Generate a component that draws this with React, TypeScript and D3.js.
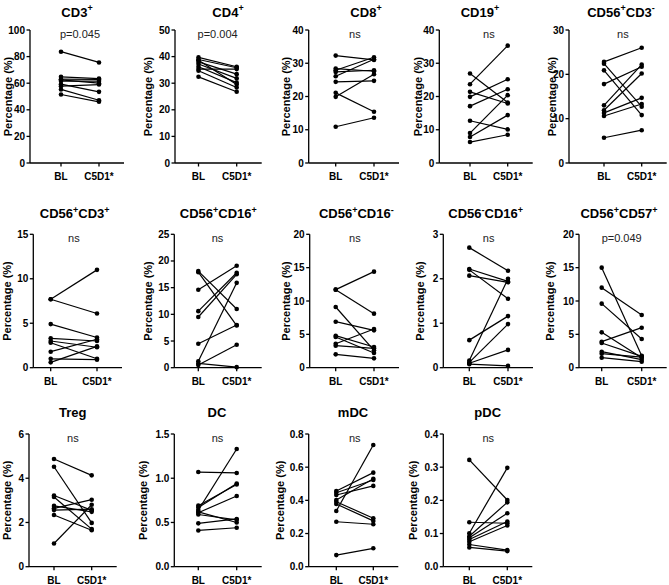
import React from "react";
import * as d3 from "d3";

// values, one entry per subject (n = 9)
const cd3BL = [83.7, 64.8, 63.0, 62.5, 61.6, 59.3, 57.8, 55.3, 51.5];
const cd3C5 = [75.6, 63.5, 62.8, 60.0, 61.6, 53.5, 59.0, 47.2, 46.0];
const cd4BL = [39.7, 38.9, 38.6, 38.0, 37.2, 36.2, 35.3, 34.7, 32.4];
const cd4C5 = [36.2, 35.8, 29.5, 33.4, 31.8, 30.2, 35.3, 28.4, 26.8];
const cd8BL = [32.3, 28.4, 27.9, 27.4, 26.1, 24.4, 21.1, 19.9, 10.9];
const cd8C5 = [31.0, 27.6, 31.8, 27.9, 31.2, 24.7, 15.4, 26.7, 13.6];
const cd19BL = [26.9, 23.7, 21.4, 19.9, 17.1, 12.7, 9.0, 7.8, 6.3];
const cd19C5 = [18.2, 35.3, 17.9, 25.2, 22.2, 10.1, 20.4, 14.4, 8.5];
const nkBL = [22.8, 22.4, 20.9, 17.8, 13.0, 11.9, 11.3, 10.6, 5.7];
const nkC5 = [26.0, 12.7, 10.8, 21.7, 22.2, 20.2, 14.7, 13.3, 7.4];
const nktBL = [7.7, 7.7, 4.9, 3.3, 3.0, 2.8, 1.8, 1.0, 0.6];
const nktC5 = [11.0, 6.1, 3.4, 3.0, 2.3, 1.0, 3.2, 0.9, 2.4];
const cd16pBL = [18.1, 17.9, 14.6, 10.6, 9.5, 4.5, 1.2, 0.8, 0.5];
const cd16pC5 = [11.0, 7.9, 19.1, 17.8, 17.5, 8.0, 15.9, 0.1, 4.3];
const cd16nBL = [11.7, 11.7, 9.1, 6.9, 4.8, 4.6, 3.6, 3.3, 2.0];
const cd16nC5 = [14.4, 8.1, 2.6, 5.6, 3.1, 2.2, 5.8, 2.9, 1.4];
const cd56nBL = [2.7, 2.22, 2.2, 2.07, 0.62, 0.16, 0.12, 0.1, 0.08];
const cd56nC5 = [2.18, 1.94, 1.55, 1.92, 1.16, 2.0, 0.98, 0.4, 0.04];
const cd57BL = [15.0, 12.0, 9.6, 5.3, 3.9, 3.7, 2.4, 2.1, 1.5];
const cd57C5 = [1.8, 7.9, 4.3, 1.5, 6.0, 1.7, 1.2, 1.6, 0.9];
const tregBL = [4.87, 4.52, 3.22, 3.15, 2.75, 2.64, 2.56, 2.34, 1.05];
const tregC5 = [4.13, 1.98, 2.55, 1.7, 2.48, 3.03, 2.6, 1.65, 2.8];
const dcBL = [1.07, 0.69, 0.67, 0.64, 0.62, 0.61, 0.59, 0.49, 0.41];
const dcC5 = [1.06, 0.93, 0.94, 1.33, 0.5, 0.8, 0.53, 0.54, 0.44];
const mdcBL = [0.456, 0.446, 0.432, 0.402, 0.392, 0.378, 0.336, 0.271, 0.07];
const mdcC5 = [0.567, 0.523, 0.487, 0.53, 0.292, 0.276, 0.734, 0.256, 0.111];
const pdcBL = [0.322, 0.134, 0.101, 0.092, 0.087, 0.082, 0.075, 0.067, 0.058];
const pdcC5 = [0.201, 0.131, 0.298, 0.194, 0.161, 0.136, 0.124, 0.05, 0.047];

const groups = ["BL", "C5D1*"];
// {x} marks a superscript
const titles = [
  "CD3{+}", "CD4{+}", "CD8{+}", "CD19{+}", "CD56{+}CD3{-}",
  "CD56{+}CD3{+}", "CD56{+}CD16{+}", "CD56{+}CD16{-}", "CD56{-}CD16{+}", "CD56{+}CD57{+}",
  "Treg", "DC", "mDC", "pDC",
];
const pLabels = ["p=0.045", "p=0.004", "ns", "ns", "ns", "ns", "ns", "ns", "ns", "p=0.049", "ns", "ns", "ns", "ns"];
const yMaxes = [100, 50, 40, 40, 30, 15, 25, 20, 3, 20, 6, 1.5, 0.8, 0.4];
const ySteps = [20, 10, 10, 10, 10, 5, 5, 5, 1, 5, 2, 0.5, 0.2, 0.1];
const blSeries = [cd3BL, cd4BL, cd8BL, cd19BL, nkBL, nktBL, cd16pBL, cd16nBL, cd56nBL, cd57BL, tregBL, dcBL, mdcBL, pdcBL];
const c5Series = [cd3C5, cd4C5, cd8C5, cd19C5, nkC5, nktC5, cd16pC5, cd16nC5, cd56nC5, cd57C5, tregC5, dcC5, mdcC5, pdcC5];

// layout
const rowOf = [0, 0, 0, 0, 0, 1, 1, 1, 1, 1, 2, 2, 2, 2];
const rowTop = [30, 234.3, 434];
const rowBottom = [163, 367.7, 566.7];
const titleY = [16.5, 218, 417];
const axisXs = [30, 175, 308.7, 439.3, 569, 33.3, 174.3, 309.7, 443.3, 579, 29, 174.3, 308.7, 443.3];
const blXs = [61, 198.5, 335.7, 470, 604, 50.7, 198.3, 335.7, 469.3, 601.7, 54, 198.3, 336.3, 469.3];
const c5Xs = [99, 236.7, 374, 507.7, 641.7, 97, 236.7, 374, 508, 641.7, 91.7, 236.7, 373.3, 507.3];
const titleXs = [77, 228, 366, 480, 621, 74.7, 218.3, 356.3, 485.7, 619, 72.7, 217, 353, 487.7];
const yLabelXs = [8, 148.3, 286.3, 418.3, 551.7, 6.7, 148.3, 285.7, 420, 550, 6.7, 143.3, 279.7, 413.3];

const font = "'Liberation Sans', Arial, Helvetica, sans-serif";

function titleSpans(t: string) {
  const parts = t.split(/[{}]/);
  return parts.map((s, k) =>
    k % 2 === 1 ? (
      <tspan key={k} dy={-5.5} fontSize={9}>{s}</tspan>
    ) : (
      <tspan key={k} dy={k > 0 ? 5.5 : 0}>{s}</tspan>
    )
  );
}

function Panel({ i }: { i: number }) {
  const row = rowOf[i];
  const top = rowTop[row];
  const bottom = rowBottom[row];
  const y = d3.scaleLinear().domain([0, yMaxes[i]]).range([bottom, top]);
  const x = d3.scalePoint<string>().domain(groups).range([blXs[i], c5Xs[i]]);
  const ax = axisXs[i];
  const xEnd = c5Xs[i] + 25;
  const ticks = d3.range(0, yMaxes[i] + ySteps[i] / 2, ySteps[i]);
  const fmt = ySteps[i] < 1 ? d3.format(".1f") : d3.format("d");
  const bl = blSeries[i];
  const c5 = c5Series[i];
  const mid = (blXs[i] + c5Xs[i]) / 2;

  return (
    <g>
      <text x={titleXs[i]} y={titleY[row]} textAnchor="middle" fontWeight="bold" fontSize={13}>
        {titleSpans(titles[i])}
      </text>
      <text x={mid} y={top + 8} textAnchor="middle" fontSize={11} fill="#222">
        {pLabels[i]}
      </text>
      <text
        transform={`translate(${yLabelXs[i]},${(top + bottom) / 2}) rotate(-90)`}
        textAnchor="middle"
        dominantBaseline="central"
        fontWeight="bold"
        fontSize={11}
      >
        Percentage (%)
      </text>

      {/* y axis */}
      <line x1={ax} x2={ax} y1={top} y2={bottom} stroke="#000" strokeWidth={1.3} />
      {ticks.map((t) => (
        <g key={t}>
          <line x1={ax - 3.5} x2={ax} y1={y(t)} y2={y(t)} stroke="#000" strokeWidth={1.3} />
          <text x={ax - 5} y={y(t)} dy="0.35em" textAnchor="end" fontWeight="bold" fontSize={10}>
            {fmt(t)}
          </text>
        </g>
      ))}

      {/* x axis */}
      <line x1={ax} x2={xEnd} y1={bottom} y2={bottom} stroke="#000" strokeWidth={1.3} />
      {groups.map((g) => (
        <g key={g}>
          <line x1={x(g)} x2={x(g)} y1={bottom} y2={bottom + 3.5} stroke="#000" strokeWidth={1.3} />
          <text x={x(g)} y={bottom + 17} textAnchor="middle" fontWeight="bold" fontSize={10}>
            {g}
          </text>
        </g>
      ))}

      {/* paired lines */}
      {bl.map((v, j) => (
        <line
          key={"l" + j}
          x1={x("BL")}
          y1={y(v)}
          x2={x("C5D1*")}
          y2={y(c5[j])}
          stroke="#000"
          strokeWidth={1.2}
        />
      ))}
      {bl.map((v, j) => (
        <circle key={"a" + j} cx={x("BL")} cy={y(v)} r={2.3} fill="#000" />
      ))}
      {c5.map((v, j) => (
        <circle key={"b" + j} cx={x("C5D1*")} cy={y(v)} r={2.3} fill="#000" />
      ))}
    </g>
  );
}

export default function App() {
  return (
    <svg
      width={669}
      height={585}
      style={{ position: "absolute", left: 0, top: 0, background: "#fff" }}
      fontFamily={font}
    >
      {titles.map((_, i) => (
        <Panel key={i} i={i} />
      ))}
    </svg>
  );
}
